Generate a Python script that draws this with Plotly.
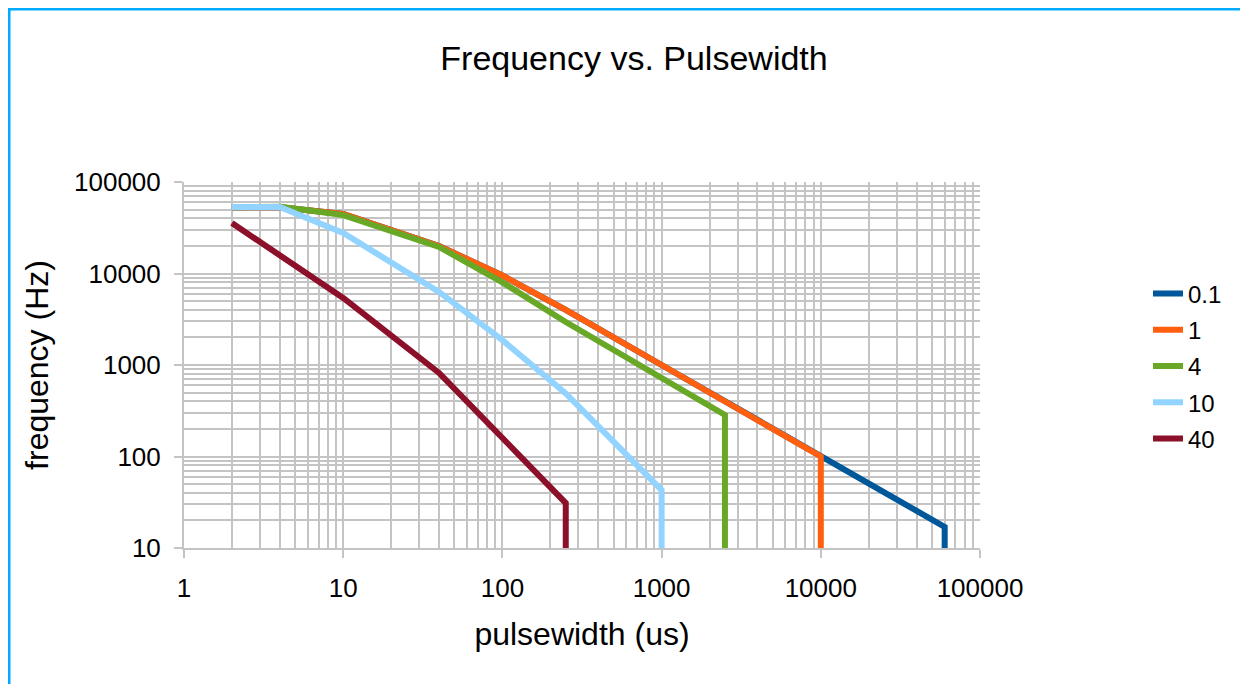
import plotly.graph_objects as go

# ---- data ----
series_names = ["0.1", "1", "4", "10", "40"]

pw_01 = [2, 4, 10, 40, 100, 250, 1000, 2500, 10000, 60000, 60000]
f_01 = [53000, 53000, 44700, 20000, 9500, 4000, 1000, 400, 100, 17, 10]

pw_1 = [2, 4, 10, 40, 100, 250, 1000, 2500, 10000, 10000]
f_1 = [53000, 53000, 44700, 20000, 9500, 4000, 1000, 400, 100, 10]

pw_4 = [2, 4, 6, 10, 40, 100, 250, 1000, 2500, 2500]
f_4 = [53000, 53500, 49000, 43500, 19500, 8000, 2950, 720, 285, 10]

pw_10 = [2, 4, 10, 40, 100, 250, 1000, 1000]
f_10 = [53300, 53300, 27700, 6300, 1870, 490, 43, 10]

pw_40 = [2, 10, 40, 100, 250, 250]
f_40 = [35600, 5400, 818, 163, 31, 10]

x_tick_vals = [1, 10, 100, 1000, 10000, 100000]
x_tick_text = ["1", "10", "100", "1000", "10000", "100000"]
y_tick_vals = [10, 100, 1000, 10000, 100000]
y_tick_text = ["10", "100", "1000", "10000", "100000"]

colors = ["#00589A", "#FF5F0F", "#68A826", "#92D4FF", "#8C1029"]
xs = [pw_01, pw_1, pw_4, pw_10, pw_40]
ys = [f_01, f_1, f_4, f_10, f_40]

FONT = "Liberation Sans, Arial, sans-serif"
GRID = "#C4C4C4"

# page offset of the figure (browser body margin)
OFF = 8
W, H = 1248 - OFF, 684 - OFF
PL, PR, PT, PB = 184, 980, 182, 548  # plot area on the page

fig = go.Figure()
for name, x, y, c in zip(series_names, xs, ys, colors):
    fig.add_trace(go.Scatter(x=x, y=y, mode="lines", name=name, legendgroup=name,
                             line=dict(color=c, width=6)))

def minor_vals(lo, hi):
    vals = []
    d = lo
    while d < hi:
        for k in range(2, 10):
            vals.append(d * k)
        d *= 10
    return vals

def px_x(p):
    return (p - PL) / (PR - PL)

def px_y(p):
    return (PB - p) / (PB - PT)

fig.update_layout(
    width=W, height=H,
    paper_bgcolor="white", plot_bgcolor="white",
    margin=dict(l=PL - OFF, r=W + OFF - PR, t=PT - OFF, b=H + OFF - PB),
    font=dict(family=FONT, color="#000000"),
    title=dict(text="Frequency vs. Pulsewidth", x=(634 - OFF) / W, xref="container",
               y=1 - (58 - OFF) / H, yref="container", xanchor="center", yanchor="middle",
               font=dict(size=34, family=FONT, color="#000000")),
    legend=dict(x=px_x(1148), y=px_y(366), xanchor="left", yanchor="middle",
                font=dict(size=24, family=FONT), tracegroupgap=2,
                bgcolor="rgba(0,0,0,0)", itemwidth=30),
    showlegend=True,
)

fig.update_xaxes(type="log", range=[0, 5], tickvals=x_tick_vals, ticktext=x_tick_text,
                 showgrid=True, gridcolor=GRID, gridwidth=2,
                 ticks="outside", ticklen=8, tickcolor=GRID, tickwidth=2,
                 showline=True, linecolor=GRID, linewidth=2,
                 tickfont=dict(size=26), ticklabelstandoff=8,
                 minor=dict(tickvals=minor_vals(1, 100000), showgrid=True,
                            gridcolor=GRID, gridwidth=2, ticks=""),
                 title=dict(text="pulsewidth (us)", font=dict(size=32), standoff=20),
                 zeroline=False)
fig.update_yaxes(type="log", range=[1, 5], tickvals=y_tick_vals, ticktext=y_tick_text,
                 showgrid=True, gridcolor=GRID, gridwidth=2,
                 ticks="outside", ticklen=8, tickcolor=GRID, tickwidth=2,
                 showline=True, linecolor=GRID, linewidth=2,
                 tickfont=dict(size=26), ticklabelstandoff=8,
                 minor=dict(tickvals=minor_vals(10, 100000), showgrid=True,
                            gridcolor=GRID, gridwidth=2, ticks=""),
                 title=dict(text="frequency (Hz)", font=dict(size=32), standoff=16),
                 zeroline=False)

# light-blue chart-area border (top and left visible)
fig.add_shape(type="line", xref="paper", yref="paper",
              x0=px_x(OFF), x1=px_x(1300), y0=px_y(OFF + 1), y1=px_y(OFF + 1),
              line=dict(color="#00AAFF", width=3))
fig.add_shape(type="line", xref="paper", yref="paper",
              x0=px_x(OFF + 1), x1=px_x(OFF + 1), y0=px_y(OFF), y1=px_y(720),
              line=dict(color="#00AAFF", width=3))

fig.write_html("out.html")
